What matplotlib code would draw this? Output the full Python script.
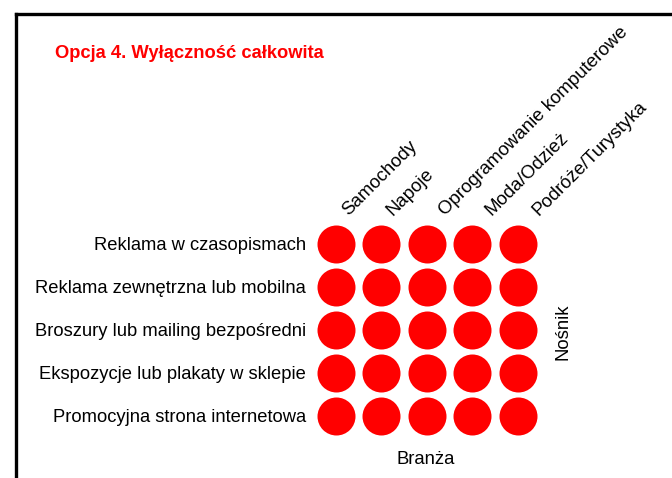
import matplotlib
matplotlib.use("Agg")
import matplotlib.pyplot as plt
from matplotlib.lines import Line2D
import numpy as np

plt.rcParams['font.family'] = ['Liberation Sans', 'DejaVu Sans']

title = "Opcja 4. Wyłączność całkowita"
branze = ["Samochody", "Napoje", "Oprogramowanie komputerowe", "Moda/Odzież", "Podróże/Turystyka"]
nosniki = ["Reklama w czasopismach", "Reklama zewnętrzna lub mobilna",
           "Broszury lub mailing bezpośredni", "Ekspozycje lub plakaty w sklepie",
           "Promocyjna strona internetowa"]
# 1 = exclusivity present (full exclusivity in every cell)
values = np.array([
    [1, 1, 1, 1, 1],
    [1, 1, 1, 1, 1],
    [1, 1, 1, 1, 1],
    [1, 1, 1, 1, 1],
    [1, 1, 1, 1, 1],
])
x_label = "Branża"
y_label = "Nośnik"

# style: horizontal shift (px) of each rotated column label from its column centre
label_shift_px = [12.3, 11.6, 18.0, 19.4, 20.6]

W, H = 672, 478
fig = plt.figure(figsize=(W / 100, H / 100), dpi=100)

# frame
fig.add_artist(Line2D([16 / W, 1.0], [1 - 14 / H, 1 - 14 / H], color='black', lw=2.4,
                      transform=fig.transFigure, solid_capstyle='projecting'))
fig.add_artist(Line2D([16 / W, 16 / W], [1 - 14 / H, 0.0], color='black', lw=2.4,
                      transform=fig.transFigure, solid_capstyle='projecting'))

left, right = 313.3, 540.4
top, bottom = 222.5, 437.2
ax = fig.add_axes([left / W, 1 - bottom / H, (right - left) / W, (bottom - top) / H])

rows, cols = np.nonzero(values)
ax.scatter(cols, rows, s=(38 * 0.72) ** 2, color='#ff0000', linewidths=0)
ax.set_xlim(-0.5, len(branze) - 0.5)
ax.set_ylim(len(nosniki) - 0.5, -0.5)
for s in ax.spines.values():
    s.set_visible(False)

ax.set_yticks(range(len(nosniki)))
ax.set_yticklabels(nosniki, fontsize=13.2)
ax.tick_params(axis='y', length=0, pad=5.3)

ax.set_xticks([])
for i, name in enumerate(branze):
    ax.annotate(name, xy=(i, -0.5), xycoords='data',
                xytext=(label_shift_px[i] * 0.72, 6 * 0.72),
                textcoords='offset points', fontsize=13.4, rotation=45,
                rotation_mode='anchor', ha='left', va='baseline', annotation_clip=False)

fig.text(425.5 / W, 1 - 459 / H, x_label, fontsize=13.3, ha='center', va='center')
fig.text(563 / W, 1 - 331.5 / H, y_label, fontsize=13.3, ha='center', va='center', rotation=90)
fig.text(55 / W, 1 - 53 / H, title, fontsize=13.2, fontweight='bold', color='#ff0000',
         ha='left', va='center')

fig.savefig("out.png", dpi=100)
